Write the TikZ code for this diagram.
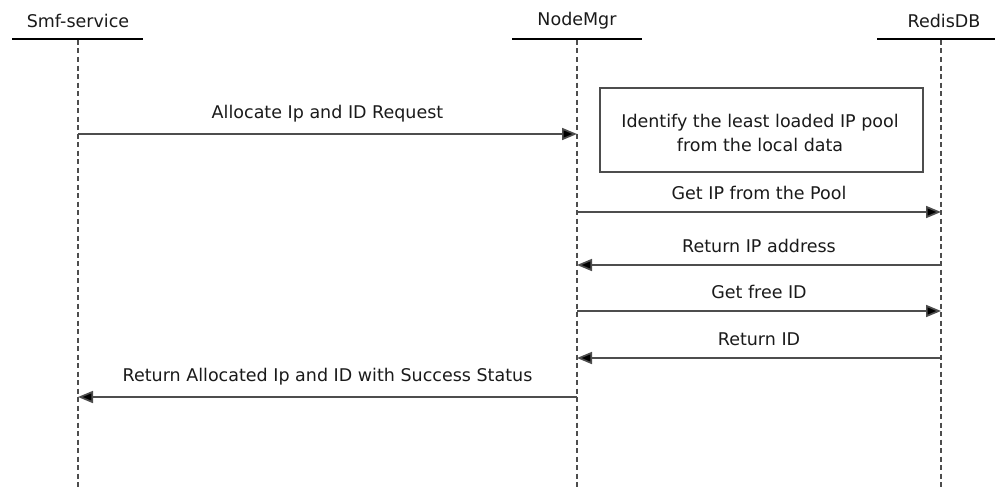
\documentclass[tikz,border=0pt]{standalone}
\usepackage{fontspec}
\setmainfont{DejaVu Sans}
\usetikzlibrary{arrows.meta}
\definecolor{txt}{HTML}{1A1A1A}
\definecolor{ln}{HTML}{4D4D4D}
\tikzset{
  lbl/.style={font=\fontsize{17.5}{20}\selectfont, text=txt, inner sep=0pt},
  hdrline/.style={draw=black, line width=1.5pt},
  life/.style={draw=ln, line width=1.6pt, dash pattern=on 5pt off 3.5pt},
  msg/.style={draw=ln, line width=1.7pt, -{Triangle[length=15pt,width=12pt,fill=black]}},
  note/.style={draw=ln, line width=1.5pt, fill=white}
}
\begin{document}
\begin{tikzpicture}[x=1pt,y=-1pt]
\useasboundingbox (0,0) rectangle (995,487);
% headers
\node[lbl] (smf) at (78,21) {Smf-service};
\node[lbl] (nm) at (577,21) {NodeMgr};
\node[lbl] (rd) at (944,21) {RedisDB};
\coordinate (smfL) at (12,39); \coordinate (smfR) at (143,39);
\coordinate (nmL) at (512,39); \coordinate (nmR) at (642,39);
\coordinate (rdL) at (877,39); \coordinate (rdR) at (995,39);
\draw[hdrline] (smfL) -- (smfR);
\draw[hdrline] (nmL) -- (nmR);
\draw[hdrline] (rdL) -- (rdR);
% lifelines
\coordinate (smfT) at (78,40); \coordinate (smfB) at (78,487);
\coordinate (nmT) at (577,40); \coordinate (nmB) at (577,487);
\coordinate (rdT) at (941,40); \coordinate (rdB) at (941,487);
\draw[life] (smfT) -- (smfB);
\draw[life] (nmT) -- (nmB);
\draw[life] (rdT) -- (rdB);
% note box
\node[note, minimum width=323pt, minimum height=84pt, anchor=north west, inner sep=0pt] (box) at (599,87) {};
\node[lbl, align=center, font=\fontsize{17.5}{24}\selectfont] (boxtxt) at (760,133) {Identify the least loaded IP pool\\from the local data};
% messages
\coordinate (s1) at (78,134); \coordinate (n1) at (577,134);
\draw[msg] (s1) -- node[lbl, above=11pt] (m1) {Allocate Ip and ID Request} (n1);
\coordinate (n2) at (577,212); \coordinate (r2) at (941,212);
\draw[msg] (n2) -- node[lbl, above=11pt] (m2) {Get IP from the Pool} (r2);
\coordinate (r3) at (941,265); \coordinate (n3) at (577,265);
\draw[msg] (r3) -- node[lbl, above=11pt] (m3) {Return IP address} (n3);
\coordinate (n4) at (577,311); \coordinate (r4) at (941,311);
\draw[msg] (n4) -- node[lbl, above=11pt] (m4) {Get free ID} (r4);
\coordinate (r5) at (941,358); \coordinate (n5) at (577,358);
\draw[msg] (r5) -- node[lbl, above=11pt] (m5) {Return ID} (n5);
\coordinate (n6) at (577,397); \coordinate (s6) at (78,397);
\draw[msg] (n6) -- node[lbl, above=11pt] (m6) {Return Allocated Ip and ID with Success Status} (s6);
\end{tikzpicture}
\end{document}
